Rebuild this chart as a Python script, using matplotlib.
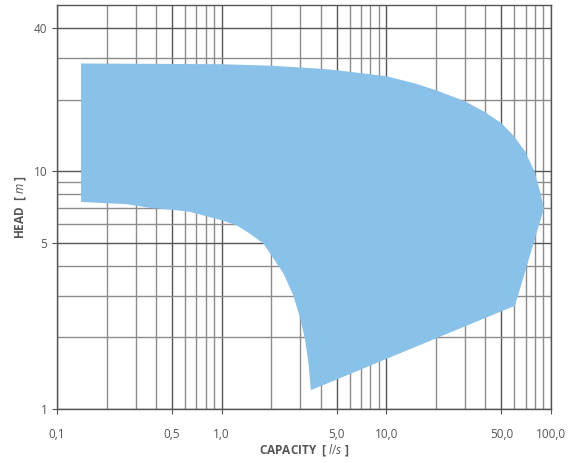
import matplotlib
matplotlib.use('Agg')
import matplotlib.pyplot as plt

# operating range of the pump series (log-log)
# upper edge, left to right
top_q = [0.14, 1.0, 2.0, 3.95, 4.55, 7.6, 10.0, 15.0, 20.1, 30.0, 39.9, 50.1,
         59.8, 69.7, 79.5, 86.4, 90.6]
top_h = [28.4, 28.2, 27.8, 27.0, 26.8, 25.7, 25.1, 23.4, 21.9, 19.7, 17.7, 15.9,
         14.0, 12.1, 9.94, 8.06, 6.97]
# lower edge, right to left
low_q = [60.4, 3.48, 3.36, 3.20, 3.0, 2.72, 2.37, 2.0, 1.79, 1.48, 1.23, 1.0,
         0.642, 0.486, 0.367, 0.265, 0.14]
low_h = [2.72, 1.20, 1.58, 1.98, 2.40, 3.01, 3.72, 4.44, 4.97, 5.47, 5.93, 6.22,
         6.75, 6.90, 7.01, 7.27, 7.43]

xticks = [0.1, 0.5, 1, 5, 10, 50, 100]
xlabels = ['0,1', '0,5', '1,0', '5,0', '10,0', '50,0', '100,0']
yticks = [1, 5, 10, 40]
ylabels = ['1', '5', '10', '40']
xminor = [0.2, 0.3, 0.4, 0.6, 0.7, 0.8, 0.9, 2, 3, 4, 6, 7, 8, 9,
          20, 30, 40, 60, 70, 80, 90]
yminor = [2, 3, 4, 6, 7, 8, 9, 20, 30]

plt.rcParams['font.family'] = ['Open Sans', 'DejaVu Sans']
plt.rcParams['mathtext.fontset'] = 'custom'
plt.rcParams['mathtext.it'] = 'Open Sans:italic'
plt.rcParams['mathtext.rm'] = 'Open Sans'

fig = plt.figure(figsize=(5.7, 4.63), dpi=100)
ax = fig.add_axes([0.1, 0.1166, 0.8667, 0.8724])
ax.set_xscale('log')
ax.set_yscale('log')
ax.set_xlim(0.1, 100)
ax.set_ylim(1, 50)

ax.fill(top_q + low_q, top_h + low_h, color='#89c1e8', lw=0, zorder=2)

ax.set_xticks(xticks)
ax.set_xticklabels(xlabels)
ax.set_yticks(yticks)
ax.set_yticklabels(ylabels)
ax.set_xticks(xminor, minor=True)
ax.set_yticks(yminor, minor=True)
ax.set_xticklabels([], minor=True)
ax.set_yticklabels([], minor=True)

ax.set_axisbelow(True)
ax.grid(which='major', color='#555555', lw=1)
ax.grid(which='minor', color='#8c8c8c', lw=1)
ax.tick_params(which='major', length=3.5, color='#555555', labelcolor='#555555',
               labelsize=8.5)
ax.tick_params(axis='x', which='major', pad=10)
ax.tick_params(which='minor', length=0)
for s in ax.spines.values():
    s.set_color('#555555')
    s.set_linewidth(1)

ax.set_xlabel(r'CAPACITY  [ $\it{l/s}$ ]', fontsize=8.5, fontweight='bold',
              color='#555555', labelpad=1)
ax.set_ylabel(r'HEAD  [ $\it{m}$ ]', fontsize=8.5, fontweight='bold',
              color='#555555', labelpad=4)

fig.savefig('out.png', dpi=100)
